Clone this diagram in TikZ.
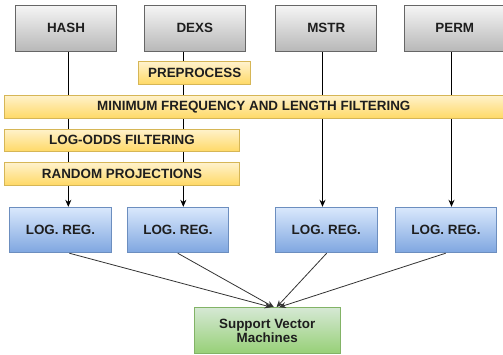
\documentclass[tikz,border=0pt]{standalone}
\usepackage{fontspec}
\setmainfont{Liberation Sans}
\usetikzlibrary{arrows.meta,backgrounds}
\definecolor{txt}{HTML}{1E1E1E}
\definecolor{grayT}{HTML}{F5F5F5}
\definecolor{grayB}{HTML}{B8B8B8}
\definecolor{grayS}{HTML}{666666}
\definecolor{yelT}{HTML}{FFF2CC}
\definecolor{yelB}{HTML}{FFD966}
\definecolor{yelS}{HTML}{D6B656}
\definecolor{bluT}{HTML}{DAE8FC}
\definecolor{bluB}{HTML}{7EA6E0}
\definecolor{bluS}{HTML}{6C8EBF}
\definecolor{grnT}{HTML}{D5E8D4}
\definecolor{grnB}{HTML}{97D077}
\definecolor{grnS}{HTML}{82B366}
\begin{document}
\begin{tikzpicture}[x=1pt,y=-1pt,
  box/.style={draw, rectangle, inner sep=0pt, line width=0.9pt, text=txt, align=center,
    font=\fontsize{13.4}{14.2}\selectfont\bfseries},
  srcbox/.style={box, draw=grayS, top color=grayT, bottom color=grayB,
    minimum width=101pt, minimum height=45.5pt},
  filterbar/.style={box, draw=yelS, top color=yelT, bottom color=yelB, minimum height=22.6pt},
  lrbox/.style={box, draw=bluS, top color=bluT, bottom color=bluB,
    minimum width=101.5pt, minimum height=45.5pt},
  svmbox/.style={box, draw=grnS, top color=grnT, bottom color=grnB,
    minimum width=145.7pt, minimum height=45.6pt},
  arr/.style={line width=0.8pt, draw=black, -{Stealth[length=7pt,width=6pt]}},
  arrb/.style={line width=0.8pt, draw=black!80, -{Stealth[length=7pt,width=6pt]}}
]
\useasboundingbox (0,0) rectangle (503,354);

% sources
\node[srcbox] (hash) at (66,28.25) {HASH};
\node[srcbox] (dexs) at (194.8,28.25) {DEXS};
\node[srcbox] (mstr) at (326.3,28.25) {MSTR};
\node[srcbox] (perm) at (454.8,28.25) {PERM};

% filters
\node[filterbar, minimum width=112pt] (pre) at (194.7,73) {PREPROCESS};
\node[filterbar, minimum width=498.3pt, minimum height=23.3pt] (minf) at (253.8,106.7) {MINIMUM FREQUENCY AND LENGTH FILTERING};
\node[filterbar, minimum width=234.6pt] (lodds) at (122,140.3) {LOG-ODDS FILTERING};
\node[filterbar, minimum width=234.6pt] (rproj) at (122,173.8) {RANDOM PROJECTIONS};

% log reg
\node[lrbox] (lr1) at (60.5,230) {LOG. REG.};
\node[lrbox] (lr2) at (178,230) {LOG. REG.};
\node[lrbox] (lr3) at (326.3,230) {LOG. REG.};
\node[lrbox] (lr4) at (446,230) {LOG. REG.};

% svm
\node[svmbox] (svm) at (267.2,330.5) {Support Vector\\Machines};

% x positions of the vertical connectors
\coordinate (c1) at (68.3,0);
\coordinate (c2) at (183.3,0);
\coordinate (c3) at (322.5,0);
\coordinate (c4) at (451.5,0);
% start/end x of lower connectors
\coordinate (d1) at (69.3,0);
\coordinate (d2) at (177.7,0);
\coordinate (d3) at (326.7,0);
\coordinate (d4) at (445.7,0);
\coordinate (e1) at (271.5,0);
\coordinate (e2) at (274,0);
\coordinate (e3) at (276.5,0);
\coordinate (e4) at (279,0);

\begin{scope}[on background layer]
\draw[arr] (hash.south -| c1) -- (lr1.north -| c1);
\draw[arr] (dexs.south -| c2) -- (lr2.north -| c2);
\draw[arr] (mstr.south -| c3) -- (lr3.north -| c3);
\draw[arr] (perm.south -| c4) -- (lr4.north -| c4);
\end{scope}

\draw[arrb] (lr1.south -| d1) -- (svm.north -| e1);
\draw[arrb] (lr2.south -| d2) -- (svm.north -| e2);
\draw[arrb] (lr3.south -| d3) -- (svm.north -| e3);
\draw[arrb] (lr4.south -| d4) -- (svm.north -| e4);
\end{tikzpicture}
\end{document}
